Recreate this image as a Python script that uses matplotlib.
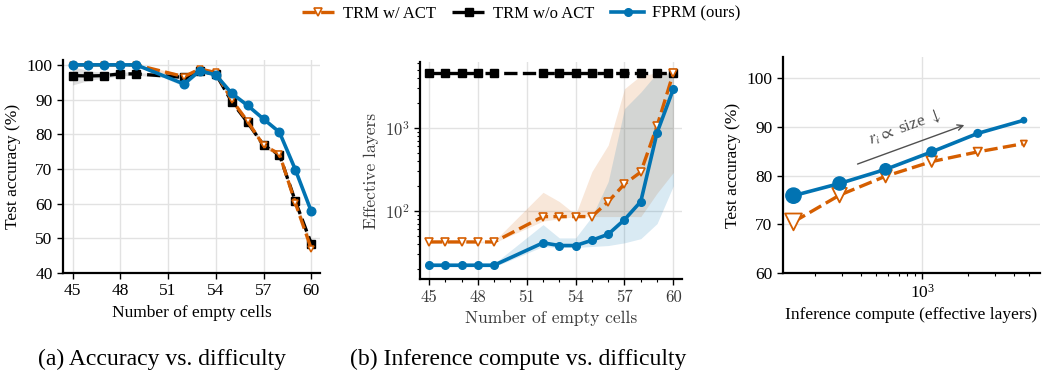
import numpy as np
import matplotlib
matplotlib.use("Agg")
import matplotlib.pyplot as plt
from matplotlib.lines import Line2D
from matplotlib.ticker import LogLocator, NullFormatter, MultipleLocator

plt.rcParams['font.family'] = 'serif'
plt.rcParams['font.serif'] = ['Liberation Serif', 'DejaVu Serif']
plt.rcParams['mathtext.fontset'] = 'stix'

ORANGE = '#d55e00'
BLUE = '#0173b2'
GRID = '#e2e2e2'

# ---- data ----
cells = [45, 46, 47, 48, 49, 52, 53, 54, 55, 56, 57, 58, 59, 60]

# (a) accuracy vs difficulty
acc_act = [100, 100, 100, 100, 100, 96.6, 98.8, 97.8, 89.9, 83.7, 76.8, 74.3, 60.2, 47.0]
acc_noact = [96.9, 96.8, 96.9, 97.4, 97.4, 96.4, 98.1, 97.4, 89.4, 83.4, 76.8, 74.1, 60.7, 48.5]
acc_fprm = [100, 100, 100, 100, 100, 94.5, 98.3, 97.1, 91.8, 88.3, 84.4, 80.6, 69.8, 57.8]
acc_noact_lo = [94.2, 95.5, 96.2, 96.8, 97.0, 95.9, 97.6, 97.0, 89.0, 83.0, 76.3, 73.6, 60.0, 47.8]
acc_noact_hi = [99.5, 98.3, 97.8, 98.0, 97.8, 97.0, 98.6, 97.8, 89.8, 83.8, 77.3, 74.6, 61.4, 49.2]
acc_act_lo = [99.6, 99.6, 99.6, 99.6, 99.6, 95.8, 98.3, 97.3, 89.3, 83.1, 76.2, 73.7, 59.5, 46.3]
acc_act_hi = [100, 100, 100, 100, 100, 97.3, 99.3, 98.3, 90.5, 84.3, 77.4, 74.9, 60.9, 47.7]
acc_fprm_lo = [99.7, 99.7, 99.7, 99.7, 99.7, 93.8, 97.9, 96.7, 91.4, 87.9, 84.0, 80.2, 69.3, 57.3]
acc_fprm_hi = [100, 100, 100, 100, 100, 95.2, 98.7, 97.5, 92.2, 88.7, 84.8, 81.0, 70.3, 58.3]

# (b) effective layers vs difficulty
lay_act = [42, 42, 42, 42, 42, 85, 85, 85, 85, 129, 210, 293, 1057, 4608]
lay_noact = [4608] * 14
lay_fprm = [22, 22, 22, 22, 22, 41, 38, 38, 44, 52, 78, 129, 877, 2950]
lay_act_lo = [41, 41, 41, 41, 41, 75, 80, 85, 85, 85, 85, 85, 163, 290]
lay_act_hi = [43, 43, 43, 43, 43, 167, 129, 90, 297, 620, 2970, 4280, 4608, 4608]
lay_fprm_lo = [21, 21, 21, 21, 21, 37, 36, 36, 37, 38, 41, 46, 70, 200]
lay_fprm_hi = [23, 23, 23, 23, 23, 68, 47, 47, 85, 225, 1710, 2700, 4608, 4608]

# (c) accuracy vs inference compute
compute = [144, 288, 576, 1152, 2304, 4608]
comp_fprm = [75.9, 78.4, 81.3, 84.9, 88.7, 91.4]
comp_act = [70.5, 76.0, 79.9, 82.9, 84.9, 86.6]

W, H = 1042, 375
fig = plt.figure(figsize=(W / 100, H / 100), dpi=100)
axA = fig.add_axes([63 / W, 1 - 273 / H, 257 / W, 213 / H])
axB = fig.add_axes([420 / W, 1 - 279 / H, 262 / W, 217 / H])
axC = fig.add_axes([783 / W, 1 - 273 / H, 257 / W, 216 / H])

DASH = (0, (4, 1.6))


def style(ax):
    for s in ['top', 'right']:
        ax.spines[s].set_visible(False)
    for s in ['left', 'bottom']:
        ax.spines[s].set_linewidth(1.6)
    ax.tick_params(which='major', length=4, width=1.0, labelsize=12.5)
    ax.tick_params(which='minor', length=2.5, width=0.8)
    ax.grid(True, which='major', color=GRID, lw=1.0)
    ax.set_axisbelow(True)


# ---- panel a ----
style(axA)
axA.fill_between(cells, acc_noact_lo, acc_noact_hi, color='gray', alpha=0.25, lw=0)
axA.fill_between(cells, acc_act_lo, acc_act_hi, color=ORANGE, alpha=0.2, lw=0)
axA.fill_between(cells, acc_fprm_lo, acc_fprm_hi, color=BLUE, alpha=0.2, lw=0)
axA.plot(cells, acc_noact, color='black', ls=DASH, lw=2.4, marker='s', ms=5.2, zorder=3)
axA.plot(cells, acc_act, color=ORANGE, ls=DASH, lw=2.4, marker='v', ms=4.6,
         mfc='white', mec=ORANGE, mew=1.1, zorder=4)
axA.plot(cells, acc_fprm, color=BLUE, lw=2.6, marker='o', ms=6.2, zorder=5)
axA.set_xlim(44.4, 60.55)
axA.set_ylim(40, 101.4)
axA.set_xticks([45, 48, 51, 54, 57, 60])
axA.set_yticks([40, 50, 60, 70, 80, 90, 100])
axA.set_xlabel('Number of empty cells', fontsize=12.5)
axA.set_ylabel('Test accuracy (%)', fontsize=12.5)

# ---- panel b ----
CM = dict(family='cmr10', math_fontfamily='cm')
GREYTXT = '#3a3a3a'
style(axB)
axB.set_yscale('log')
axB.fill_between(cells, lay_act_lo, lay_act_hi, color=ORANGE, alpha=0.15, lw=0)
axB.fill_between(cells, lay_fprm_lo, lay_fprm_hi, color=BLUE, alpha=0.15, lw=0)
axB.plot(cells, lay_noact, color='black', ls=DASH, lw=2.4, marker='s', ms=5.2, zorder=3)
axB.plot(cells, lay_act, color=ORANGE, ls=DASH, lw=2.4, marker='v', ms=6,
         mfc='white', mec=ORANGE, mew=1.2, zorder=4)
axB.plot(cells, lay_fprm, color=BLUE, lw=2.6, marker='o', ms=5.5, zorder=5)
axB.set_xlim(44.45, 60.53)
axB.set_ylim(15, 6240)
axB.set_xticks([45, 48, 51, 54, 57, 60])
axB.set_xticklabels(['45', '48', '51', '54', '57', '60'], color=GREYTXT, fontsize=12, **CM)
axB.xaxis.set_minor_locator(MultipleLocator(1))
axB.set_yticks([100, 1000])
axB.set_yticklabels(['$10^2$', '$10^3$'], color=GREYTXT, fontsize=12, **CM)
axB.yaxis.set_minor_locator(LogLocator(base=10, subs=np.arange(2, 10)))
axB.yaxis.set_minor_formatter(NullFormatter())
axB.set_xlabel('Number of empty cells', fontsize=12.5, color=GREYTXT, **CM)
axB.set_ylabel('Effective layers', fontsize=12.5, color=GREYTXT, **CM)

# ---- panel c ----
style(axC)
axC.set_xscale('log')
sizes_c = [11, 9.5, 8.2, 7, 5.5, 4]
axC.plot(compute, comp_act, color=ORANGE, ls=DASH, lw=2.4, zorder=3)
axC.scatter(compute, comp_act, s=[(s * 1.1) ** 2 for s in sizes_c], marker='v',
            facecolor='white', edgecolor=ORANGE, lw=1.3, zorder=4)
axC.plot(compute, comp_fprm, color=BLUE, lw=2.6, zorder=5)
axC.scatter(compute, comp_fprm, s=[s ** 2 for s in sizes_c], marker='o', color=BLUE, zorder=6)
axC.set_xlim(123, 5875)
axC.set_ylim(60, 104.4)
axC.set_yticks([60, 70, 80, 90, 100])
axC.xaxis.set_minor_formatter(NullFormatter())
axC.set_xlabel('Inference compute (effective layers)', fontsize=12.5)
axC.set_ylabel('Test accuracy (%)', fontsize=12.5)
axC.annotate('', xy=(1958, 90.6), xytext=(363, 82.2),
             arrowprops=dict(arrowstyle='->', color='#505050', lw=1.0))
axC.text(770, 89.8, r'$r_i \propto$ size $\downarrow$', rotation=20, ha='center', va='center',
         fontsize=12.5, color='#505050')

# ---- legend ----
handles = [
    Line2D([], [], color=ORANGE, ls=DASH, lw=2.4, marker='v', ms=6, mfc='white', mec=ORANGE, mew=1.2),
    Line2D([], [], color='black', ls=DASH, lw=2.4, marker='s', ms=5.2),
    Line2D([], [], color=BLUE, lw=2.6, marker='o', ms=5.5),
]
fig.legend(handles, ['TRM w/ ACT', 'TRM w/o ACT', 'FPRM (ours)'], loc='center',
           bbox_to_anchor=(0.5, 0.963), ncol=3, frameon=False, fontsize=12,
           handlelength=2.0, handletextpad=0.45, columnspacing=1.0)

fig.text(162 / W, 1 - 359 / H, '(a) Accuracy vs. difficulty', ha='center', va='center', fontsize=17)
fig.text(518 / W, 1 - 359 / H, '(b) Inference compute vs. difficulty', ha='center', va='center', fontsize=17)

fig.savefig('out.png', dpi=100)
